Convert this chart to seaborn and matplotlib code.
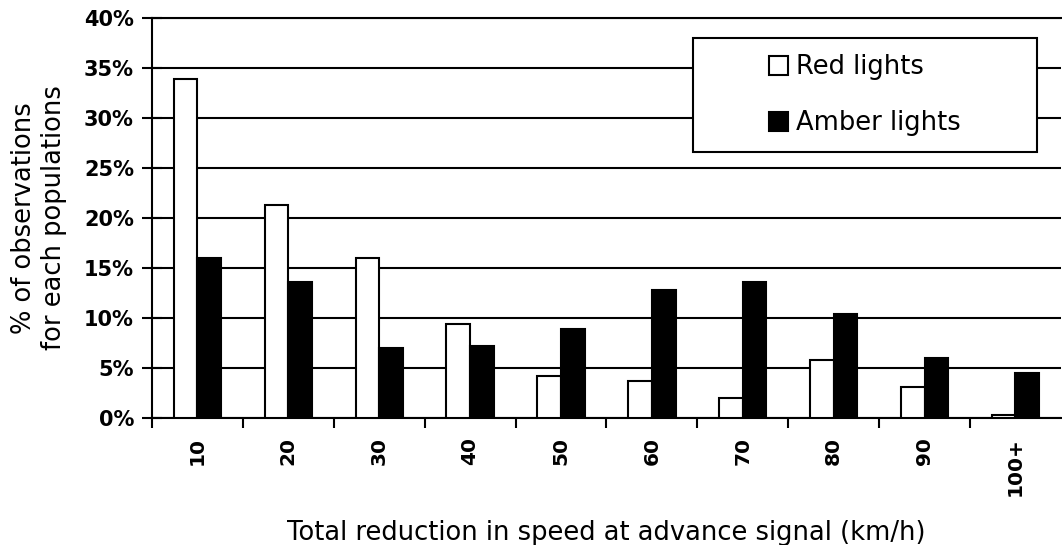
import matplotlib
matplotlib.use("Agg")
import matplotlib.pyplot as plt
from matplotlib.patches import Rectangle
import seaborn as sns
import pandas as pd
import numpy as np
from matplotlib.ticker import PercentFormatter, MultipleLocator

categories = ["10", "20", "30", "40", "50", "60", "70", "80", "90", "100+"]
red_lights = [33.9, 21.3, 16.0, 9.4, 4.2, 3.7, 2.0, 5.8, 3.1, 0.3]
amber_lights = [16.0, 13.6, 7.0, 7.2, 8.9, 12.8, 13.6, 10.4, 6.0, 4.5]
series_names = ["Red lights", "Amber lights"]

df = pd.DataFrame({
    "cat": categories * 2,
    "value": red_lights + amber_lights,
    "series": [series_names[0]] * len(categories) + [series_names[1]] * len(categories),
})

sns.set_theme(style="white")
plt.rcParams["font.family"] = ["DejaVu Sans"]
plt.rcParams["text.color"] = "black"
plt.rcParams["axes.labelcolor"] = "black"
plt.rcParams["xtick.color"] = "black"
plt.rcParams["ytick.color"] = "black"

fig = plt.figure(figsize=(10.62, 5.45), dpi=100)
ax = fig.add_axes([0.1431, 0.233, 0.8559, 0.734])

sns.barplot(data=df, x="cat", y="value", hue="series", order=categories,
            hue_order=series_names, palette=["white", "black"],
            edgecolor="black", linewidth=1.5, width=0.52, ax=ax, zorder=3)

ax.set_ylim(0, 40)
ax.set_xlim(-0.5, len(categories) - 0.5)
ax.yaxis.set_major_locator(MultipleLocator(5))
ax.yaxis.set_major_formatter(PercentFormatter(decimals=0))
ax.yaxis.grid(True, color="black", linewidth=1.5, zorder=0)
ax.set_axisbelow(True)

ax.spines["right"].set_visible(False)
ax.spines["top"].set_visible(True)
for s in ["left", "bottom", "top"]:
    ax.spines[s].set_color("black")
    ax.spines[s].set_linewidth(1.5)

ax.set_xticks(range(len(categories)))
ax.set_xticklabels(categories, rotation=90, fontweight="bold", fontsize=14.5)
ax.set_xticks(np.arange(-0.5, len(categories) - 0.5, 1.0), minor=True)
ax.tick_params(axis="x", which="major", length=0, pad=14)
ax.tick_params(axis="x", which="minor", length=7, width=1.5, color="black", direction="out", bottom=True)
ax.tick_params(axis="y", which="major", length=14, width=1.5, color="black", direction="inout", left=True,
               labelsize=15, pad=6)
for lab in ax.get_yticklabels():
    lab.set_fontweight("bold")

ax.set_xlabel("Total reduction in speed at advance signal (km/h)", fontsize=18.5, labelpad=17)
ax.set_ylabel("% of observations\nfor each populations", fontsize=18.5, labelpad=12)

# legend frame (white box with black border) and centred entries
frame = Rectangle((0.595, 0.665), 0.3786, 0.285, transform=ax.transAxes,
                  facecolor="white", edgecolor="black", linewidth=1.5, zorder=4)
ax.add_patch(frame)
handles, labels = ax.get_legend_handles_labels()
leg = ax.legend(handles, labels, loc="center", bbox_to_anchor=(0.784, 0.807),
                frameon=False, fontsize=18.5, handlelength=0.76, handleheight=0.76,
                handletextpad=0.3, labelspacing=1.15, borderpad=0, borderaxespad=0)
leg.set_zorder(5)

fig.savefig("out.png", dpi=100)
